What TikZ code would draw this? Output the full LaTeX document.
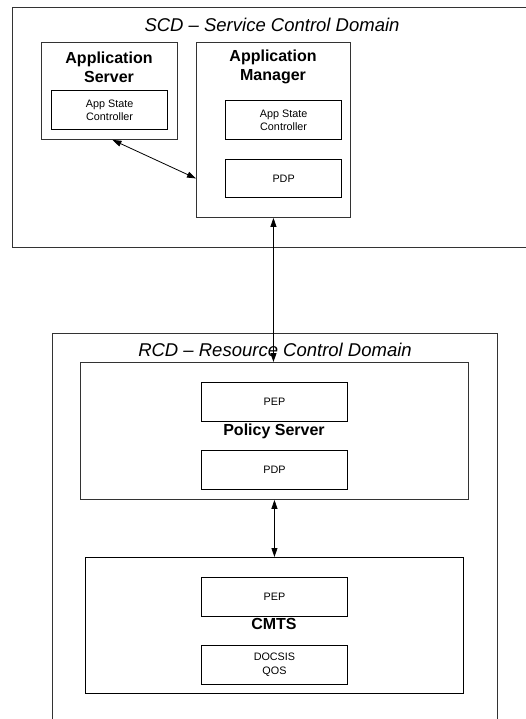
\documentclass[tikz,border=0pt]{standalone}
\usepackage{fontspec}
\setmainfont{Liberation Sans}
\usetikzlibrary{arrows.meta}
\begin{document}
\begin{tikzpicture}[x=1pt,y=-1pt,
  domframe/.style={draw=black!80, line width=0.9pt},
  outerbox/.style={draw=black!80, line width=0.9pt, inner sep=0pt, anchor=north west},
  innerbox/.style={draw=black, line width=1.2pt, inner sep=0pt, anchor=north west, align=center,
    font=\fontsize{10.8}{13.5}\selectfont},
  domtitle/.style={font=\fontsize{18.5}{22}\selectfont\itshape, inner sep=0pt},
  boxtitle/.style={font=\fontsize{16}{19}\selectfont\bfseries, align=center, inner sep=0pt},
  link/.style={draw=black, line width=0.8pt, {Triangle[length=9pt,width=6pt]}-{Triangle[length=9pt,width=6pt]}}
]
\useasboundingbox (0,0) rectangle (525,719);
\fill[white] (0,0) rectangle (525,719);

% SCD domain
\draw[domframe] (526,7) -- (12,7) -- (12,247) -- (526,247);
\node[domtitle] (scdt) at (272,25) {SCD -- Service Control Domain};

% Application Server
\node[outerbox, minimum width=136pt, minimum height=97pt] (as) at (41,42) {};
\node[boxtitle] (ast) at (109,67) {Application\\Server};
\node[innerbox, minimum width=116pt, minimum height=39pt] (asc1) at (51,90) {App State\\Controller};

% Application Manager
\node[outerbox, minimum width=154pt, minimum height=175pt] (am) at (196,42) {};
\node[boxtitle] (amt) at (273,67) {Application\\Manager};
\node[innerbox, minimum width=116pt, minimum height=39pt] (asc2) at (225,100) {App State\\Controller};
\node[innerbox, minimum width=116pt, minimum height=38pt] (pdp1) at (225,159) {PDP};

% RCD domain
\draw[domframe] (497,720) -- (497,333) -- (52,333) -- (52,720);
\node[domtitle] (rcdt) at (275,350) {RCD -- Resource Control Domain};

% Policy Server
\node[outerbox, minimum width=388pt, minimum height=137pt] (ps) at (80,362) {};
\node[innerbox, line width=0.9pt, minimum width=146pt, minimum height=39pt] (pep1) at (201,382) {PEP};
\node[boxtitle] (pst) at (274,431) {Policy Server};
\node[innerbox, line width=0.9pt, minimum width=146pt, minimum height=39pt] (pdp2) at (201,450) {PDP};

% CMTS
\node[outerbox, draw=black, minimum width=378pt, minimum height=136pt] (cmts) at (85,557) {};
\node[innerbox, line width=0.9pt, minimum width=146pt, minimum height=39pt] (pep2) at (201,577) {PEP};
\node[boxtitle] (cmtst) at (274,624) {CMTS};
\node[innerbox, line width=0.9pt, minimum width=146pt, minimum height=39pt] (qos) at (201,645) {DOCSIS\\QOS};

% connectors
\draw[link] ([xshift=3pt]as.south) -- ([yshift=-48.5pt]am.west);
\draw[link] (am.south) -- (am.south |- ps.north);
\draw[link] (ps.south) -- (cmts.north);
\end{tikzpicture}
\end{document}
